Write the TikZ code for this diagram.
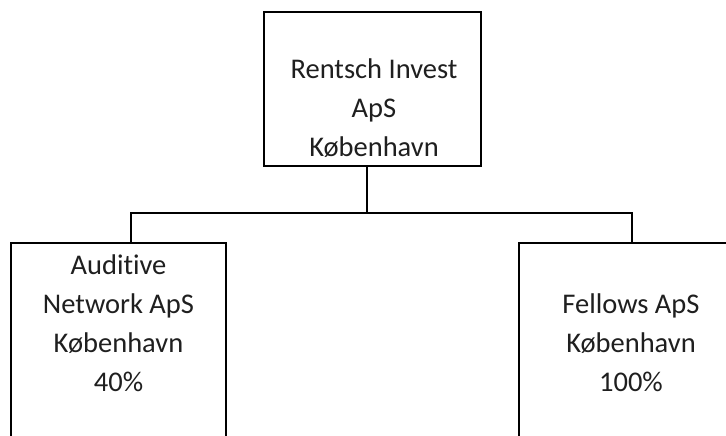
\documentclass[tikz,border=0pt]{standalone}
\usepackage{fontspec}
\setmainfont{Carlito}[Ligatures={NoCommon,NoContextual}]
\begin{document}
\begin{tikzpicture}[x=1pt,y=1pt,
  box/.style={draw=black,line width=1.4pt,rectangle,inner sep=0pt},
  txt/.style={align=center,inner sep=0pt,font=\fontsize{28.5}{39}\selectfont,text=black!88},
  conn/.style={draw=black,line width=1.3pt}]
\useasboundingbox (0,0) rectangle (726,436);
\clip (0,0) rectangle (726,436);
\fill[white] (0,0) rectangle (726,436);
% boxes
\node[box,minimum width=217pt,minimum height=154pt] (top) at (372.5,347) {};
\node[box,minimum width=215pt,minimum height=233pt] (left) at (118.5,76.5) {};
\node[box,minimum width=226pt,minimum height=233pt] (right) at (632,76.5) {};
% texts
\node[txt] (toptext) at (374,327.5) {Rentsch Invest\\ApS\\København};
\node[txt] (lefttext) at (118.5,113) {Auditive\\Network ApS\\København\\40\%};
\node[txt] (righttext) at (631,93) {Fellows ApS\\København\\100\%};
% connectors
\coordinate (j) at (367,223);
\coordinate (la) at (131,223);
\coordinate (ra) at (632,223);
\draw[conn] (top.south -| j) -- (j);
\draw[conn] (la |- left.north) -- (la) -- (ra) -- (ra |- right.north);
\end{tikzpicture}
\end{document}
